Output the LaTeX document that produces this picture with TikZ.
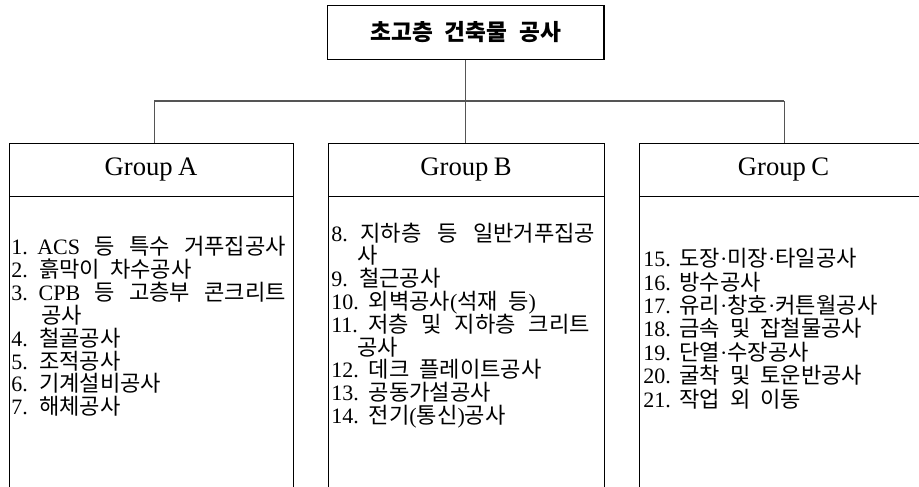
\documentclass[tikz,border=0pt]{standalone}
\usepackage{fontspec}
\setmainfont{Liberation Serif}
\newfontfamily\krfont{Noto Sans CJK KR}
\newcommand\K[1]{{\krfont\fontsize{16.6pt}{17.25pt}\selectfont\spaceskip=7.5pt plus 8pt minus 3pt #1}}
\newcommand\KT[1]{{\krfont\bfseries\fontsize{17pt}{19pt}\selectfont\spaceskip=9pt #1}}
\definecolor{linegray}{RGB}{85,85,85}
\tikzset{
  grpbox/.style={draw=black, line width=1pt, anchor=north west, inner sep=0pt, minimum height=268pt},
  titlebox/.style={draw=black, line width=1pt, inner sep=0pt, minimum width=207.2pt, minimum height=40.2pt},
  divline/.style={draw=black, line width=1pt},
  conn/.style={draw=linegray, line width=0.8pt},
  hdr/.style={inner sep=0pt, font=\fontsize{20pt}{23pt}\selectfont},
  item/.style={anchor=base west, inner sep=0pt, font=\fontsize{16.5pt}{17.25pt}\selectfont}
}
\begin{document}
\begin{tikzpicture}[x=0.75pt,y=-0.75pt]
\useasboundingbox (0,0) rectangle (919,486);
\clip (0,0) rectangle (919,486);
% title
\node[titlebox] (T) at (465.8,32.5) {\KT{초고층 건축물 공사}};
% group boxes
\node[grpbox, minimum width=213pt] (A) at (9,143) {};
\node[grpbox, minimum width=207pt] (B) at (328,143) {};
\node[grpbox, minimum width=213pt] (C) at (639,143) {};
\draw[divline] ([yshift=-40pt]A.north west) -- ([yshift=-40pt]A.north east);
\draw[divline] ([yshift=-40pt]B.north west) -- ([yshift=-40pt]B.north east);
\draw[divline] ([yshift=-40pt]C.north west) -- ([yshift=-40pt]C.north east);
\node[hdr] (Ah) at (151,170) {Group\hspace{4pt}A};
\node[hdr] (Bh) at (466,170) {Group\hspace{4pt}B};
\node[hdr] (Ch) at (783.5,170) {Group\hspace{4pt}C};
% connectors
\coordinate (bus) at (465.8,101);
\coordinate (ja) at (154.3,101);
\coordinate (jc) at (784.3,101);
\draw[conn] (T.south) -- (bus);
\draw[conn] (ja) -- (jc);
\draw[conn] (ja) -- (ja |- A.north);
\draw[conn] (bus) -- (bus |- B.north);
\draw[conn] (jc) -- (jc |- C.north);
% group A
\node[item] (a1) at (11,254.5) {\makebox[206pt][s]{1.\hspace{6pt plus 3pt}ACS\K{ 등 특수 거푸집공사}}};
\node[item] (a2) at (11,277.4) {2.\hspace{8.5pt}\K{흙막이 차수공사}};
\node[item] (a3) at (11,300.3) {\makebox[206pt][s]{3.\hspace{7pt plus 3pt}CPB\K{ 등 고층부 콘크리트}}};
\node[item] (a3b) at (41,323.2) {\K{공사}};
\node[item] (a4) at (11,346.1) {4.\hspace{8.5pt}\K{철골공사}};
\node[item] (a5) at (11,369.0) {5.\hspace{8.5pt}\K{조적공사}};
\node[item] (a6) at (11,391.9) {6.\hspace{8.5pt}\K{기계설비공사}};
\node[item] (a7) at (11,414.8) {7.\hspace{8.5pt}\K{해체공사}};
% group B
\node[item] (b1) at (331,241) {\makebox[198pt][s]{8.\hspace{8pt plus 3pt}\K{지하층 등 일반거푸집공}}};
\node[item] (b1b) at (357,263.8) {\K{사}};
\node[item] (b2) at (331,286.6) {9.\hspace{8.5pt}\K{철근공사}};
\node[item] (b3) at (331,309.4) {10.\hspace{7.5pt}\K{외벽공사}(\K{석재 등})};
\node[item] (b4) at (331,332.2) {\makebox[194pt][s]{11.\hspace{7pt plus 3pt}\K{저층 및 지하층 크리트}}};
\node[item] (b4b) at (357,355.0) {\K{공사}};
\node[item] (b5) at (331,377.8) {12.\hspace{7.5pt}\K{데크 플레이트공사}};
\node[item] (b6) at (331,400.6) {13.\hspace{7.5pt}\K{공동가설공사}};
\node[item] (b7) at (331,423.4) {14.\hspace{7.5pt}\K{전기}(\K{통신})\K{공사}};
% group C
\node[item] (c1) at (643,266.7) {15.\hspace{6.5pt}\K{도장}·\K{미장}·\K{타일공사}};
\node[item] (c2) at (643,290.1) {16.\hspace{6.5pt}\K{방수공사}};
\node[item] (c3) at (643,313.5) {17.\hspace{6.5pt}\K{유리}·\K{창호}·\K{커튼월공사}};
\node[item] (c4) at (643,336.9) {18.\hspace{6.5pt}\K{금속 및 잡철물공사}};
\node[item] (c5) at (643,360.3) {19.\hspace{6.5pt}\K{단열}·\K{수장공사}};
\node[item] (c6) at (643,383.7) {20.\hspace{6.5pt}\K{굴착 및 토운반공사}};
\node[item] (c7) at (643,407.1) {21.\hspace{6.5pt}\K{작업 외 이동}};
\end{tikzpicture}
\end{document}
